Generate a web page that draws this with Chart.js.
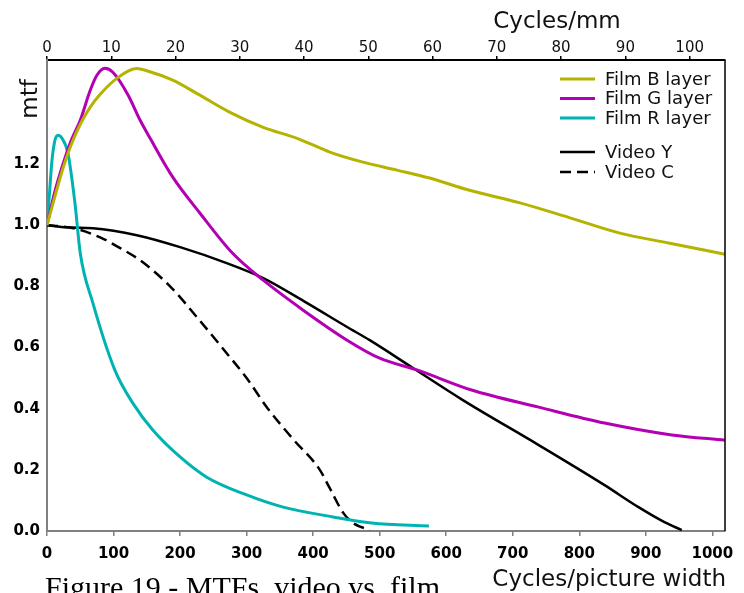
<!DOCTYPE html>
<html>
<head>
<meta charset="utf-8">
<script src="https://cdn.jsdelivr.net/npm/chart.js@4.4.1/dist/chart.umd.min.js"></script>
<style>
  html, body { margin: 0; padding: 0; background: #fff; overflow: hidden; }
  #wrap { position: relative; width: 744px; height: 593px; overflow: hidden; }
  #caption { position: absolute; left: 45px; top: 572px; font-family: "Liberation Serif", serif; font-size: 30px; line-height: 30px; color: #000; white-space: nowrap; }
</style>
</head>
<body>
<div id="wrap">
  <canvas id="c" width="744" height="593"></canvas>
  <div id="caption">Figure 19 - MTFs, video vs. film</div>
</div>
<script>
// ---- data (x in cycles/picture width, y = mtf) ----
const filmB_x = [0, 12, 24, 36, 50, 65, 80, 105, 135, 150, 189, 225, 275, 325, 376, 425, 475, 526, 575, 635, 711, 786, 861, 936, 1019];
const filmB_y = [1.0, 1.095, 1.186, 1.261, 1.33, 1.386, 1.428, 1.48, 1.512, 1.505, 1.474, 1.431, 1.369, 1.32, 1.284, 1.239, 1.206, 1.18, 1.154, 1.114, 1.073, 1.024, 0.974, 0.941, 0.905];

const filmG_x = [0, 12, 24, 36, 50, 65, 75, 87, 99, 122, 140, 155, 189, 230, 279, 325, 385, 451, 500, 557, 638, 739, 838, 939, 1019];
const filmG_y = [1.0, 1.111, 1.199, 1.275, 1.343, 1.441, 1.49, 1.513, 1.5, 1.425, 1.343, 1.284, 1.157, 1.039, 0.908, 0.82, 0.722, 0.624, 0.565, 0.526, 0.461, 0.405, 0.353, 0.314, 0.297];

const filmR_x = [0, 3, 7.5, 12, 16.5, 22.5, 31.5, 42, 50, 69, 102, 129, 159, 200, 240, 300, 355, 430, 488, 574];
const filmR_y = [1.0, 1.082, 1.212, 1.278, 1.294, 1.284, 1.235, 1.072, 0.908, 0.745, 0.526, 0.418, 0.33, 0.242, 0.176, 0.118, 0.078, 0.046, 0.026, 0.016];

const videoY_x = [0, 30, 69, 135, 200, 270, 325, 391, 451, 485, 550, 625, 739, 838, 889, 928, 954];
const videoY_y = [1.0, 0.993, 0.99, 0.967, 0.928, 0.876, 0.827, 0.745, 0.667, 0.624, 0.533, 0.428, 0.281, 0.15, 0.078, 0.029, 0.003];

const videoC_x = [0, 40, 80, 110, 140, 185, 225, 263, 300, 332, 370, 410, 425, 445, 460, 485];
const videoC_y = [1.0, 0.99, 0.96, 0.925, 0.885, 0.8, 0.7, 0.6, 0.5, 0.4, 0.3, 0.2, 0.14, 0.06, 0.026, 0.003];

const seriesNames = ["Film B layer", "Film G layer", "Film R layer", "Video Y", "Video C"];

// ---- tick labels ----
const xTicks = [0, 100, 200, 300, 400, 500, 600, 700, 800, 900, 1000];
const x2Ticks = [0, 10, 20, 30, 40, 50, 60, 70, 80, 90, 100];
const yTicks = [0, 0.2, 0.4, 0.6, 0.8, 1.0, 1.2];
const xMax = 1019, x2Max = 105.5, yMax = 1.54;

function pts(xs, ys) { return xs.map((x, i) => ({ x: x, y: ys[i] })); }

const common = { fill: false, pointRadius: 0, cubicInterpolationMode: 'monotone', borderCapStyle: 'butt' };

const datasets = [
  Object.assign({ label: seriesNames[0], data: pts(filmB_x, filmB_y), borderColor: '#b3b300', borderWidth: 3 }, common),
  Object.assign({ label: seriesNames[1], data: pts(filmG_x, filmG_y), borderColor: '#b300b3', borderWidth: 3 }, common),
  Object.assign({ label: seriesNames[2], data: pts(filmR_x, filmR_y), borderColor: '#00b3b3', borderWidth: 3 }, common),
  Object.assign({ label: seriesNames[3], data: pts(videoY_x, videoY_y), borderColor: '#000000', borderWidth: 2.5 }, common),
  Object.assign({ label: seriesNames[4], data: pts(videoC_x, videoC_y), borderColor: '#000000', borderWidth: 2.5, borderDash: [11, 6] }, common)
];

const decor = {
  id: 'decor',
  afterDraw(chart) {
    const ctx = chart.ctx, a = chart.chartArea;
    ctx.save();
    // right border
    ctx.strokeStyle = '#000'; ctx.lineWidth = 1.5;
    ctx.beginPath(); ctx.moveTo(a.right, a.top); ctx.lineTo(a.right, a.bottom); ctx.stroke();
    // top axis tick labels (placed via the x2 scale)
    const s2 = chart.scales.x2;
    ctx.fillStyle = '#111';
    ctx.font = '15px "DejaVu Sans"';
    ctx.textAlign = 'center';
    ctx.textBaseline = 'alphabetic';
    x2Ticks.forEach(v => ctx.fillText(String(v), s2.getPixelForValue(v), 52));
    // axis titles
    ctx.font = '23px "DejaVu Sans"';
    ctx.textAlign = 'center';
    ctx.fillText('Cycles/mm', 557, 28);
    ctx.textAlign = 'right';
    ctx.fillText('Cycles/picture width', 726, 586);
    // mtf label
    ctx.save();
    ctx.translate(37, 99);
    ctx.rotate(-Math.PI / 2);
    ctx.textAlign = 'center';
    ctx.fillText('mtf', 0, 0);
    ctx.restore();
    // legend
    const ys = [79, 98.5, 118, 152, 172];
    ctx.font = '18px "DejaVu Sans"';
    ctx.textAlign = 'left';
    ctx.textBaseline = 'middle';
    chart.data.datasets.forEach((ds, i) => {
      ctx.strokeStyle = ds.borderColor;
      ctx.lineWidth = ds.borderWidth;
      ctx.setLineDash(ds.borderDash || []);
      ctx.beginPath(); ctx.moveTo(560, ys[i]); ctx.lineTo(595, ys[i]); ctx.stroke();
      ctx.setLineDash([]);
      ctx.fillStyle = '#111';
      ctx.fillText(ds.label, 605, ys[i] + 1);
    });
    ctx.restore();
  }
};

new Chart(document.getElementById('c'), {
  type: 'line',
  data: { datasets: datasets },
  plugins: [decor],
  options: {
    responsive: false,
    devicePixelRatio: 1,
    animation: false,
    layout: { padding: { right: 19, left: 0, top: 0, bottom: 0 } },
    plugins: { legend: { display: false }, tooltip: { enabled: false } },
    scales: {
      x: {
        type: 'linear', position: 'bottom', min: 0, max: xMax,
        afterBuildTicks: s => { s.ticks = xTicks.map(v => ({ value: v })); },
        afterFit: s => { s.height = 62; },
        grid: { drawOnChartArea: false, drawTicks: true, tickLength: 5, color: '#808080', lineWidth: 1.5 },
        border: { color: '#808080', width: 2 },
        ticks: { padding: 9, color: '#000', font: { family: 'DejaVu Sans', size: 15, weight: 'bold' }, maxRotation: 0, autoSkip: false, callback: v => String(v) }
      },
      x2: {
        type: 'linear', position: 'top', min: 0, max: x2Max,
        afterBuildTicks: s => { s.ticks = x2Ticks.map(v => ({ value: v })); },
        afterFit: s => { s.height = 60; },
        grid: { drawOnChartArea: false, drawTicks: true, tickLength: 4, color: '#000', lineWidth: 1.5 },
        border: { color: '#000', width: 2 },
        ticks: { display: false }
      },
      y: {
        type: 'linear', position: 'left', min: 0, max: yMax,
        afterBuildTicks: s => { s.ticks = yTicks.map(v => ({ value: v })); },
        afterFit: s => { s.width = 47; },
        grid: { drawOnChartArea: false, drawTicks: false },
        border: { color: '#808080', width: 2 },
        ticks: { padding: 7, color: '#000', font: { family: 'DejaVu Sans', size: 15, weight: 'bold' }, callback: v => v.toFixed(1) }
      }
    }
  }
});
</script>
</body>
</html>
